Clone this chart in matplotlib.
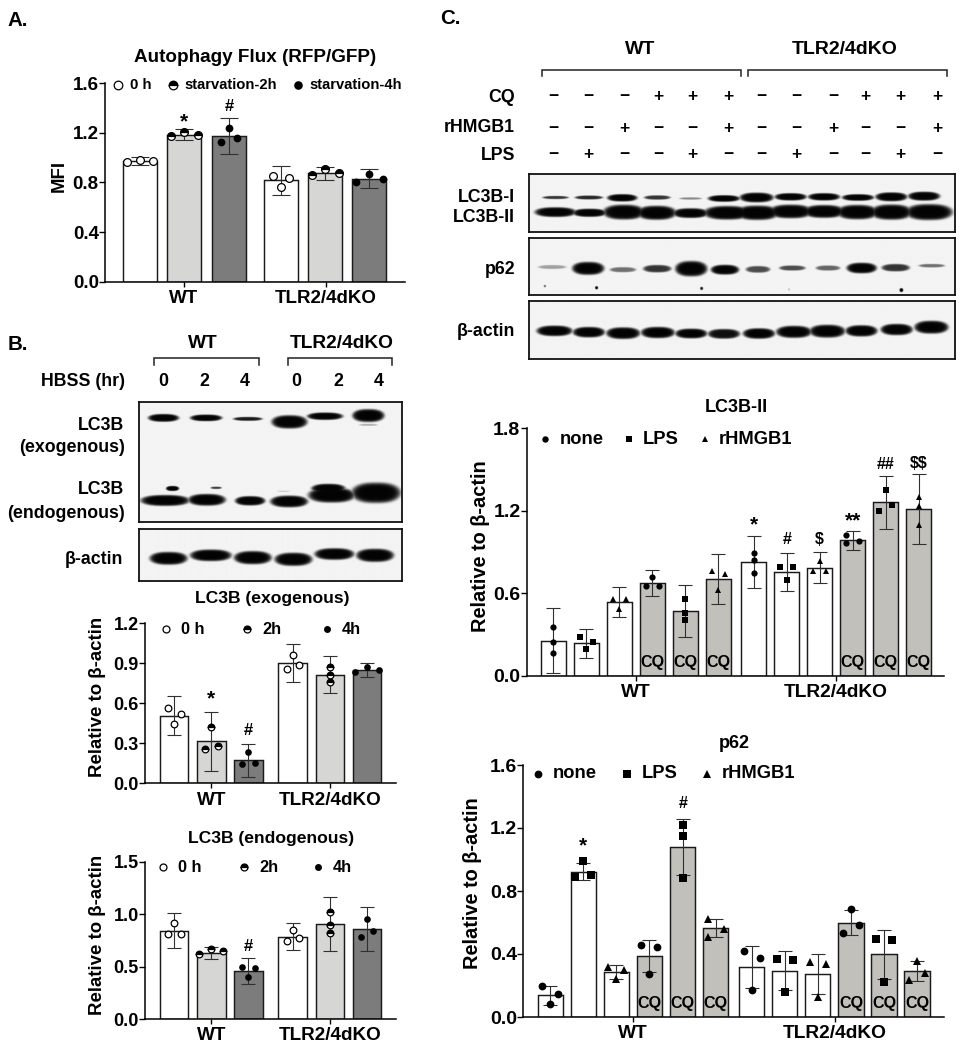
import numpy as np
import matplotlib
matplotlib.use('Agg')
import matplotlib.pyplot as plt

W, H = 964, 1050
FONT = 'Liberation Sans'
plt.rcParams['font.family'] = [FONT, 'DejaVu Sans']
plt.rcParams['font.weight'] = 'bold'

BETA_Y = 'Relative to β-actin'
GROUPS = ['WT', 'TLR2/4dKO']

# panel A, autophagy flux
a_mean = [0.973, 1.185, 1.175, 0.817, 0.874, 0.830]
a_sd = [0.030, 0.045, 0.148, 0.118, 0.055, 0.077]
a_pts = [[0.963, 0.984, 0.970], [1.175, 1.205, 1.186], [1.130, 1.242, 1.156],
         [0.855, 0.766, 0.836], [0.863, 0.906, 0.874], [0.804, 0.866, 0.825]]
a_ticks = [0.0, 0.4, 0.8, 1.2, 1.6]

# panel B, LC3B exogenous
bx_mean = [0.508, 0.315, 0.173, 0.900, 0.813, 0.850]
bx_sd = [0.144, 0.220, 0.122, 0.143, 0.139, 0.050]
bx_pts = [[0.563, 0.448, 0.518], [0.260, 0.423, 0.278], [0.145, 0.233, 0.155],
          [0.855, 0.963, 0.890], [0.870, 0.813, 0.760], [0.833, 0.870, 0.848]]
bx_ticks = [0.0, 0.3, 0.6, 0.9, 1.2]

# panel B, LC3B endogenous
bn_mean = [0.842, 0.632, 0.458, 0.785, 0.906, 0.855]
bn_sd = [0.167, 0.058, 0.125, 0.130, 0.255, 0.210]
bn_pts = [[0.807, 0.920, 0.807], [0.616, 0.664, 0.645], [0.496, 0.404, 0.486],
          [0.740, 0.845, 0.775], [1.020, 0.896, 0.817], [0.785, 0.950, 0.842]]
bn_ticks = [0.0, 0.5, 1.0, 1.5]

# panel C, LC3B-II
c1_mean = [0.257, 0.237, 0.538, 0.676, 0.475, 0.707, 0.828, 0.758, 0.787, 0.986, 1.262, 1.214]
c1_sd = [0.235, 0.104, 0.107, 0.093, 0.189, 0.183, 0.188, 0.138, 0.112, 0.071, 0.192, 0.252]
c1_pts = [[0.359, 0.250, 0.170], [0.283, 0.199, 0.250], [0.560, 0.487, 0.560],
          [0.656, 0.720, 0.656], [0.560, 0.460, 0.410], [0.766, 0.625, 0.739],
          [0.896, 0.843, 0.749], [0.795, 0.698, 0.795], [0.766, 0.838, 0.766],
          [1.025, 0.969, 0.981], [1.200, 1.352, 1.245], [1.298, 1.235, 1.100]]
c1_ticks = [0.0, 0.6, 1.2, 1.8]

# panel C, p62
c2_mean = [0.138, 0.923, 0.288, 0.389, 1.081, 0.563, 0.317, 0.294, 0.273, 0.599, 0.398, 0.290]
c2_sd = [0.061, 0.055, 0.045, 0.103, 0.178, 0.057, 0.132, 0.124, 0.126, 0.081, 0.157, 0.063]
c2_pts = [[0.195, 0.080, 0.148], [0.887, 0.988, 0.900], [0.317, 0.239, 0.300],
          [0.459, 0.275, 0.442], [1.221, 1.147, 0.883], [0.620, 0.506, 0.557],
          [0.419, 0.171, 0.372], [0.370, 0.157, 0.360], [0.349, 0.129, 0.339],
          [0.531, 0.684, 0.584], [0.495, 0.220, 0.491], [0.233, 0.356, 0.279]]
c2_ticks = [0.0, 0.4, 0.8, 1.2, 1.6]

# treatment rows above the blot in panel C
cq_signs = ['−', '−', '−', '+', '+', '+', '−', '−', '−', '+', '+', '+']
hmgb_signs = ['−', '−', '+', '−', '−', '+', '−', '−', '+', '−', '−', '+']
lps_signs = ['−', '+', '−', '−', '+', '−', '−', '+', '−', '−', '+', '−']

# blot bands: x, y, width, height, level, in 3x crop coordinates of each panel
b_blot1 = [(490, 295, 82, 20, 1), (618, 295, 85, 17, 1), (743, 298, 78, 10, .9),
           (868, 307, 95, 34, 1), (975, 290, 95, 19, 1), (1105, 288, 85, 33, 1),
           (1105, 316, 50, 5, .3), (495, 543, 130, 28, 1), (517, 507, 35, 13, 1),
           (620, 541, 100, 30, 1), (648, 505, 30, 6, .75), (750, 544, 80, 24, 1),
           (867, 546, 100, 30, 1), (850, 515, 35, 3, .2), (995, 527, 125, 38, 1),
           (985, 507, 90, 24, 1), (1128, 520, 130, 52, 1)]
b_blot2 = [(505, 715, 100, 33, 1), (632, 706, 110, 30, 1), (758, 713, 100, 34, 1),
           (880, 718, 100, 34, 1), (1003, 702, 105, 30, 1), (1125, 706, 100, 34, 1)]
c_blot1 = [(345, 592, 70, 8, .8), (445, 592, 75, 10, .85), (545, 593, 80, 19, 1),
           (650, 592, 70, 11, .8), (750, 595, 60, 6, .45), (850, 595, 85, 17, 1),
           (948, 592, 90, 25, 1), (1050, 590, 85, 19, 1), (1150, 590, 85, 19, 1),
           (1252, 592, 85, 17, 1), (1352, 590, 85, 23, 1), (1450, 588, 85, 23, 1),
           (345, 636, 110, 25, 1), (447, 638, 90, 21, 1), (550, 636, 110, 38, 1),
           (648, 638, 105, 36, 1), (750, 639, 95, 25, 1), (860, 638, 125, 35, 1),
           (950, 638, 115, 37, 1), (1050, 634, 115, 35, 1), (1150, 634, 110, 33, 1),
           (1250, 636, 110, 37, 1), (1352, 636, 110, 39, 1), (1465, 636, 125, 41, 1)]
c_blot2 = [(335, 803, 75, 10, .35), (443, 807, 85, 33, 1), (547, 811, 70, 13, .55),
           (650, 808, 75, 19, .8), (752, 808, 85, 39, 1), (853, 811, 75, 25, 1),
           (952, 810, 65, 17, .7), (1055, 806, 70, 13, .7), (1162, 806, 65, 13, .6),
           (1263, 806, 80, 27, 1), (1365, 805, 75, 19, .8), (1473, 799, 70, 9, .55),
           (313, 860, 6, 6, .6), (468, 865, 8, 8, 1), (783, 867, 8, 8, .9),
           (1382, 872, 10, 10, 1), (1045, 870, 5, 5, .25)]
c_blot3 = [(342, 993, 95, 27, 1), (445, 997, 85, 27, 1), (548, 1000, 90, 30, 1),
           (652, 998, 90, 29, 1), (752, 1001, 85, 25, 1), (850, 1002, 85, 25, .95),
           (955, 1001, 85, 27, 1), (1060, 996, 95, 31, 1), (1160, 994, 95, 33, 1),
           (1262, 993, 85, 29, 1), (1368, 989, 85, 29, 1), (1472, 982, 90, 33, 1)]

WHITE = 'white'
LIGHT = '#d6d6d4'
DARK = '#7c7c7c'
CQ_GREY = '#c1c0bb'
EDGE = '#1a1a1a'

fig = plt.figure(figsize=(W / 100, H / 100), dpi=100)
# full page axes in pixels, for the labels that sit outside the charts
page = fig.add_axes([0, 0, 1, 1], zorder=5)
page.set_xlim(0, W)
page.set_ylim(H, 0)
page.axis('off')


def label(x, y, s, size=12.8, ha='center', rot=0):
    page.text(x, y, s, fontsize=size, ha=ha, va='center', rotation=rot,
              rotation_mode='anchor' if rot else 'default')


def bracket(x0, x1, y, drop):
    page.plot([x0, x0, x1, x1], [y + drop, y, y, y + drop], color='#222222', lw=1.1,
              solid_joinstyle='miter')


def marker_style(kind, size):
    if kind == 'open':
        return dict(marker='o', ms=size, mfc='white', mec='black', mew=0.9)
    if kind == 'half':
        return dict(marker='o', ms=size, fillstyle='top', mfc='black',
                    markerfacecoloralt='white', mec='black', mew=0.9)
    return dict(marker=kind, ms=size, mfc='black', mec='black', mew=0)


def blot(left, top, right, bottom, bands, ox, oy):
    # soft dark blobs on a film coloured array, shown as an image
    xs = np.linspace((left - ox) * 3, (right - ox) * 3, int(right - left) * 2)
    ys = np.linspace((top - oy) * 3, (bottom - oy) * 3, int(bottom - top) * 2)
    gx, gy = np.meshgrid(xs, ys)
    dark = np.zeros_like(gx)
    for bx, by, bw, bh, level in bands:
        d = (np.abs(gx - bx) / (bw / 2)) ** 2.6 + (np.abs(gy - by) / (bh / 2)) ** 2
        dark = np.maximum(dark, level * np.exp(-(d * 0.72) ** 4))
    img = 0.955 - 0.94 * dark
    ax = fig.add_axes([left / W, 1 - bottom / H, (right - left) / W, (bottom - top) / H])
    ax.imshow(img, cmap='gray', vmin=0, vmax=1, aspect='auto', interpolation='bilinear')
    ax.set_xticks([])
    ax.set_yticks([])
    for s in ax.spines.values():
        s.set_linewidth(1.3)
        s.set_color('#111111')


def chart(box, xs, mean, sd, pts, dx, ticks, colors, kinds, group_x, bar_w,
          cap, ms, tick_size, group_size):
    left, top, right, bottom = box
    ax = fig.add_axes([left / W, 1 - bottom / H, (right - left) / W, (bottom - top) / H])
    ax.patch.set_alpha(0)
    ax.bar(xs, mean, width=bar_w, color=colors, edgecolor=EDGE, linewidth=1.05, zorder=1)
    ax.errorbar(xs, mean, yerr=sd, fmt='none', ecolor='#303030', elinewidth=0.8,
                capsize=cap, capthick=0.8, zorder=2)
    for i, x in enumerate(xs):
        ax.plot(x + np.array(dx[i]), pts[i], ls='none', zorder=3, clip_on=False,
                **marker_style(kinds[i], ms))
    ax.set_xlim(left, right)
    ax.set_ylim(0, ticks[-1])
    ax.set_yticks(ticks, [f'{t:.1f}' for t in ticks], fontsize=tick_size, fontweight='bold')
    ax.set_xticks(group_x, GROUPS, fontsize=group_size, fontweight='bold')
    ax.tick_params(axis='y', length=4, width=1.0, pad=0.5)
    ax.tick_params(axis='x', length=3.5, width=1.0, pad=2.5)
    for s in ['top', 'right']:
        ax.spines[s].set_visible(False)
    for s in ['left', 'bottom']:
        ax.spines[s].set_linewidth(1.1)
    return ax


def mark(ax, x, y, s, off, size=11):
    ax.annotate(s, (x, y), xytext=(0, off), textcoords='offset points', ha='center',
                va='center', fontsize=size, annotation_clip=False, parse_math=False)


# panel letters
label(7, 21, 'A.', 14.8, 'left')
label(8, 345, 'B.', 14.8, 'left')
label(440, 19, 'C.', 14.8, 'left')

# panel A
a_x = [140, 184, 229, 281, 325, 369]
a_dx = [[-13, 0, 13], [-13, 0, 14], [-8, 0, 8], [-8, 0, 8], [-13.5, 0, 13.5], [-13, 0, 14]]
a_colors = [WHITE, LIGHT, DARK] * 2
ax = chart((105, 83.3, 405, 281.7), a_x, a_mean, a_sd, a_pts, a_dx, a_ticks, a_colors,
           ['open', 'half', 'o'] * 2, [184, 326], 34, 6.5, 5.6, 13.5, 13.5)
mark(ax, a_x[1], a_mean[1] + a_sd[1], '*', 5, 15)
mark(ax, a_x[2], a_mean[2] + a_sd[2], '#', 8, 12)
label(255, 58, 'Autophagy Flux (RFP/GFP)', 13.6)
label(59, 176, 'MFI', 13.4, rot=90)
page.plot(118, 85, **marker_style('open', 6.2))
page.plot(173, 85, **marker_style('half', 6.2))
page.plot(298, 85, **marker_style('o', 6.2))
label(130, 85, '0 h', 10.8, 'left')
label(184, 85, 'starvation-2h', 10.6, 'left')
label(309, 85, 'starvation-4h', 10.6, 'left')

# panel B blots and their labels
label(203, 344, 'WT', 13.8)
label(342, 344, 'TLR2/4dKO', 13.8)
bracket(153.5, 258.5, 357.5, 7)
bracket(287.5, 392, 357.5, 7)
label(125, 382, 'HBSS (hr)', 12.8, 'right')
for x, s in zip([163, 204, 245, 296, 338, 379], ['0', '2', '4', '0', '2', '4']):
    label(x, 382, s, 12.8)
blot(139, 401.7, 401.7, 522.3, b_blot1, 0, 320)
blot(139, 529, 401.7, 581, b_blot2, 0, 320)
label(124, 425, 'LC3B', 12.8, 'right')
label(125, 447, '(exogenous)', 12.8, 'right')
label(124, 490, 'LC3B', 12.8, 'right')
label(125, 513, '(endogenous)', 12.8, 'right')
label(123, 559, 'β-actin', 12.8, 'right')

# panel B charts
b_x = [174, 211.3, 248.3, 292.7, 330, 367]
bx_dx = [[-6.5, 0, 6.5], [-6.5, 0, 6.5], [-6.5, 0, 6.5], [-6, 0, 6.5], [0, 0, 0], [-12, 0, 11.5]]
bn_dx = [[-6, 0, 6.5], [-12, 0, 12], [-6.5, 0, 6.5], [-6, 0, 6.5], [0, 0, 0], [-6.5, 0, 6]]
ax = chart((145, 623.3, 396, 783.3), b_x, bx_mean, bx_sd, bx_pts, bx_dx, bx_ticks, a_colors,
           ['open', 'half', 'o'] * 2, [211.3, 330], 28.5, 5, 4.8, 13, 13.6)
mark(ax, b_x[1], bx_mean[1] + bx_sd[1], '*', 9.5, 15)
mark(ax, b_x[2], bx_mean[2] + bx_sd[2], '#', 9.5, 12)
label(272, 599, 'LC3B (exogenous)', 12.6)
label(98, 697, BETA_Y, 13.4, rot=90)
for mx, tx, s, k, y in [(166, 181, '0 h', 'open', 629), (247, 262, '2h', 'half', 629),
                        (327, 342, '4h', 'o', 629), (163, 178, '0 h', 'open', 867),
                        (244, 259, '2h', 'half', 867), (318, 333, '4h', 'o', 867)]:
    page.plot(mx, y, **marker_style(k, 5.0))
    label(tx, y, s, 11.8, 'left')

ax = chart((145, 861.7, 396, 1019), b_x, bn_mean, bn_sd, bn_pts, bn_dx, bn_ticks, a_colors,
           ['open', 'half', 'o'] * 2, [211.3, 330], 28.5, 5, 4.8, 13, 13.6)
mark(ax, b_x[2], bn_mean[2] + bn_sd[2], '#', 8, 12)
label(271, 838, 'LC3B (endogenous)', 12.6)
label(98, 935, BETA_Y, 13.4, rot=90)

# panel C blot and its labels
label(640, 49, 'WT', 14)
label(845, 49, 'TLR2/4dKO', 14)
bracket(541.5, 740.5, 69.5, 6)
bracket(747.5, 946.5, 69.5, 6)
sign_x = [553.7, 588.7, 624.3, 658.3, 692.7, 728.3, 761.7, 796.7, 833.3, 865.7, 900.7, 937.3]
for y, name, signs in [(97, 'CQ', cq_signs), (128, 'rHMGB1', hmgb_signs), (155, 'LPS', lps_signs)]:
    label(515, y, name, 12.8, 'right')
    for x, s in zip(sign_x, signs):
        label(x, y, s, 12.5)
blot(528.7, 174, 955, 231.7, c_blot1, 440, 0)
blot(528.7, 238, 955, 295.3, c_blot2, 440, 0)
blot(528.7, 301.3, 955, 359, c_blot3, 440, 0)
label(515, 197, 'LC3B-I', 12.8, 'right')
label(515, 218, 'LC3B-II', 12.8, 'right')
label(515, 270, 'p62', 12.8, 'right')
label(515, 332, 'β-actin', 12.8, 'right')

# panel C charts
c1_x = [553.3, 586.3, 619.3, 652.3, 685.3, 718.3, 753.7, 786.7, 819.7, 852.7, 885.7, 918.7]
c2_x = [550.3, 583.3, 616.3, 649.3, 682.7, 715.7, 751.7, 784.7, 817.7, 851, 884, 917]
c1_dx = [[0, 0, 0], [-6.5, 0, 6.5], [-6.5, 0, 6.5], [-6.5, 0, 6.5], [0, 0, 0], [-6.5, 0, 6.5],
         [0, 0, 0], [-6.5, 0, 6.5], [-6.5, 0, 6.5], [-6.5, -6.5, 6], [-6.5, 0, 6.5], [0, 0, 0]]
c2_dx = [[-8, 0, 8], [-8, 0, 8], [-8, 0, 8], [-8, 0, 8], [0, 0, 0], [-8, -8, 8],
         [-8, 0, 8], [-8, 0, 8], [-8, 0, 8], [-8, 0, 8], [-8, 0, 8], [-8, 0, 8]]
c_colors = ([WHITE] * 3 + [CQ_GREY] * 3) * 2
c_kinds = ['o', 's', '^'] * 4

ax = chart((526.7, 428.3, 944, 676), c1_x, c1_mean, c1_sd, c1_pts, c1_dx, c1_ticks, c_colors,
           c_kinds, [635.7, 836], 25.5, 4.7, 4.5, 14, 13.8)
for i, s, off, size in [(6, '*', 8, 15), (7, '#', 9.5, 11.5), (8, '$', 9.5, 11.5), (9, '**', 7, 15),
                        (10, '##', 8, 11.5), (11, '$$', 8, 11.5)]:
    mark(ax, c1_x[i], c1_mean[i] + c1_sd[i], s, off, size)
for i in range(12):
    if c_colors[i] == CQ_GREY:
        mark(ax, c1_x[i], 0, 'CQ', 10, 11.6)
label(736, 407, 'LC3B-II', 13)
label(480, 546, BETA_Y, 14.4, rot=90)

ax = chart((523.3, 765, 944, 1017), c2_x, c2_mean, c2_sd, c2_pts, c2_dx, c2_ticks, c_colors,
           c_kinds, [633.3, 834.7], 25.5, 4.7, 5.6, 14, 13.8)
mark(ax, c2_x[1], c2_mean[1] + c2_sd[1], '*', 12, 15)
mark(ax, c2_x[4], c2_mean[4] + c2_sd[4], '#', 11, 11.5)
for i in range(12):
    if c_colors[i] == CQ_GREY:
        mark(ax, c2_x[i], 0, 'CQ', 10, 11.6)
label(734, 743, 'p62', 13)
label(473, 883, BETA_Y, 14.4, rot=90)

for y, mxs, txs, ms in [(439, [545, 629, 705], [560, 643, 719], 4.6),
                        (774, [538, 627, 707], [553, 642, 722], 5.6)]:
    for mx, tx, k, s in zip(mxs, txs, ['o', 's', '^'], ['none', 'LPS', 'rHMGB1']):
        page.plot(mx, y, **marker_style(k, ms))
        label(tx, y, s, 13.2, 'left')

fig.savefig('out.png', dpi=100)
